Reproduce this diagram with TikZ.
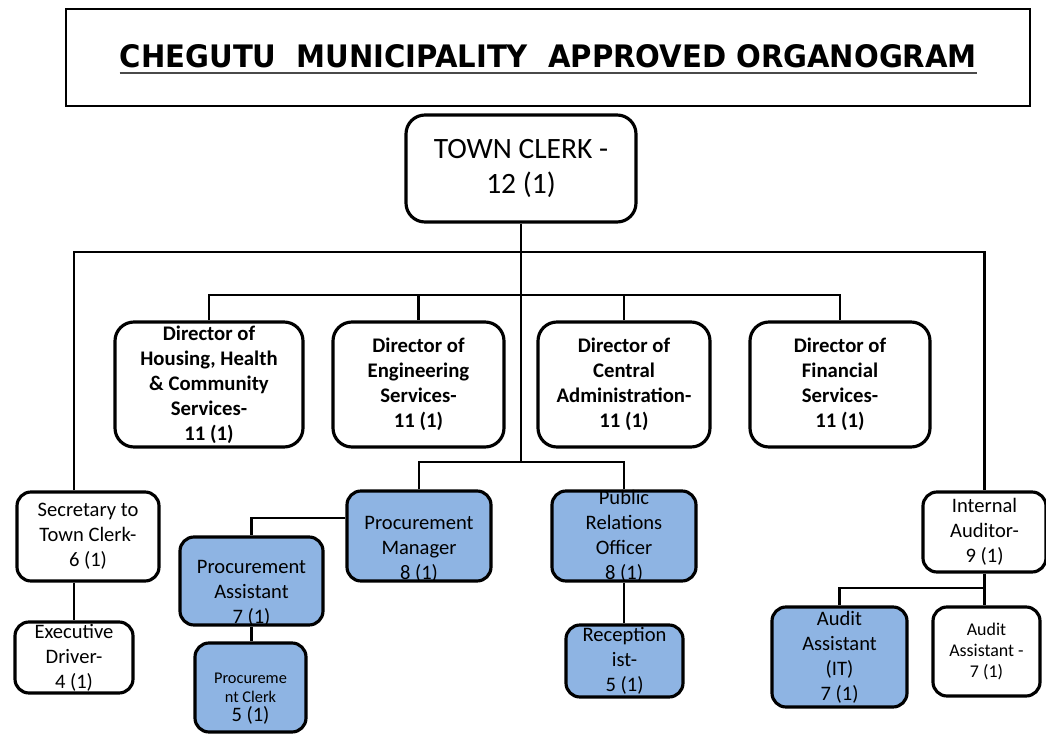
\documentclass[tikz,border=0pt]{standalone}
\usepackage{fontspec}
\setmainfont{Carlito}
\newfontfamily\bannerfont{DejaVu Sans Condensed Bold}
\usepackage{xcolor}
\usepackage{graphicx}
\usetikzlibrary{positioning}
\definecolor{PostBlue}{HTML}{8EB4E3}
\definecolor{RuleGrey}{HTML}{4A4A4A}

\begin{document}
\begin{tikzpicture}[x=0.2mm, y=-0.2mm,
    post/.style={draw, line width=1.8pt, rounded corners=2.8mm, fill=white, inner sep=0pt},
    chief/.style={post, rounded corners=3.8mm},
    newpost/.style={post, fill=PostBlue},
    link/.style={line width=1.6pt},
    txt/.style={align=center, inner sep=0pt, font=\fontsize{11.7}{14.2}\selectfont},
    btxt/.style={txt, font=\fontsize{11.8}{14.2}\selectfont\bfseries}]
  \useasboundingbox (0,0) rectangle (1046,734);
  % Heading
  \node[draw, line width=1.6pt, minimum width=192.8mm, minimum height=19.4mm, inner sep=0pt] (banner) at (548,57.5) {};
  \node[inner sep=0pt] (heading) at (548.5,56.5) {\resizebox{171.4mm}{4.6mm}{\bannerfont CHEGUTU\ \ MUNICIPALITY\ \ APPROVED ORGANOGRAM}};
  \draw[RuleGrey, line width=1.1pt] ([yshift=-0.8mm]heading.south west) -- ([yshift=-0.8mm]heading.south east);
  % Town clerk
  \node[chief, minimum width=46mm, minimum height=21.4mm,
    label={[txt, font=\fontsize{16.8}{19.9}\selectfont]center:TOWN CLERK -\\12 (1)}] (tc) at (521,168.5) {};
  % Directors
  \node[chief, minimum width=37.6mm, minimum height=25mm,
    label={[btxt]center:Director of\\Housing, Health\\\& Community\\Services-\\11 (1)}] (hhc) at (209,384.5) {};
  \node[chief, minimum width=34.2mm, minimum height=25mm,
    label={[btxt]center:Director of\\Engineering\\Services-\\11 (1)}] (eng) at (418.5,384.5) {};
  \node[chief, minimum width=34.4mm, minimum height=25mm,
    label={[btxt]center:Director of\\Central\\Administration-\\11 (1)}] (cad) at (624,384.5) {};
  \node[chief, minimum width=36mm, minimum height=25mm,
    label={[btxt]center:Director of\\Financial\\Services-\\11 (1)}] (fin) at (840,384.5) {};
  % Office of the town clerk
  \node[post, minimum width=28.4mm, minimum height=17.8mm,
    label={[txt]center:Secretary to\\Town Clerk-\\6 (1)}] (sec) at (88,536.5) {};
  \node[post, minimum width=23.6mm, minimum height=14.2mm,
    label={[txt]center:Executive\\Driver-\\4 (1)}] (drv) at (74,657.5) {};
  \node[newpost, minimum width=28.8mm, minimum height=18mm,
    label={[txt, yshift=-2.6mm]center:Procurement\\Manager\\8 (1)}] (pm) at (419,536) {};
  \node[newpost, minimum width=28.6mm, minimum height=17.6mm,
    label={[txt, yshift=-2.4mm]center:Procurement\\Assistant\\7 (1)}] (pa) at (251.5,581) {};
  \node[newpost, minimum width=22.2mm, minimum height=17.8mm,
    label={[txt, yshift=-2.2mm, font=\fontsize{9.3}{10.8}\selectfont]center:Procureme\\nt Clerk\\\fontsize{11.7}{10.8}\selectfont 5 (1)}] (pc) at (250.5,687.5) {};
  \node[newpost, minimum width=28.8mm, minimum height=18mm,
    label={[txt]center:Public\\Relations\\Officer\\8 (1)}] (pro) at (624,536) {};
  \node[newpost, minimum width=23.4mm, minimum height=14.4mm,
    label={[txt]center:Reception\\ist-\\5 (1)}] (rec) at (624.5,661) {};
  % Audit section
  \node[post, minimum width=24.6mm, minimum height=16mm,
    label={[txt]center:Internal\\Auditor-\\9 (1)}] (ia) at (984.5,532) {};
  \node[newpost, minimum width=27mm, minimum height=20mm,
    label={[txt]center:Audit\\Assistant\\(IT)\\7 (1)}] (aait) at (839.5,657) {};
  \node[post, minimum width=21.4mm, minimum height=17.8mm,
    label={[txt, font=\fontsize{10.2}{12}\selectfont]center:Audit\\Assistant -\\7 (1)}] (aa) at (986.5,651.5) {};
  % Reporting lines
  \coordinate (topbus) at (521,252);
  \coordinate (dirbus) at (521,295);
  \coordinate (unitbus) at (521,462);
  \coordinate (audbus) at (984.5,588);
  \draw[link] (tc.south) -- (unitbus);
  \draw[link] (drv.north |- sec.north) -- (drv.north |- topbus) -- (ia.north |- topbus) -- (ia.north);
  \draw[link] (hhc.north) |- (dirbus) -| (fin.north);
  \draw[link] (eng.north) -- (eng.north |- dirbus);
  \draw[link] (cad.north) -- (cad.north |- dirbus);
  \draw[link] (pm.north) |- (unitbus) -| (pro.north);
  \draw[link] ([yshift=3.6mm]pm.west) -| (pa.north);
  \draw[link] (pa.south) -- (pa.south |- pc.north);
  \draw[link] (drv.north |- sec.south) -- (drv.north);
  \draw[link] (pro.south) -- (pro.south |- rec.north);
  \draw[link] (ia.south) -- (ia.south |- aa.north);
  \draw[link] (aait.north) |- (audbus);
\end{tikzpicture}
\end{document}
